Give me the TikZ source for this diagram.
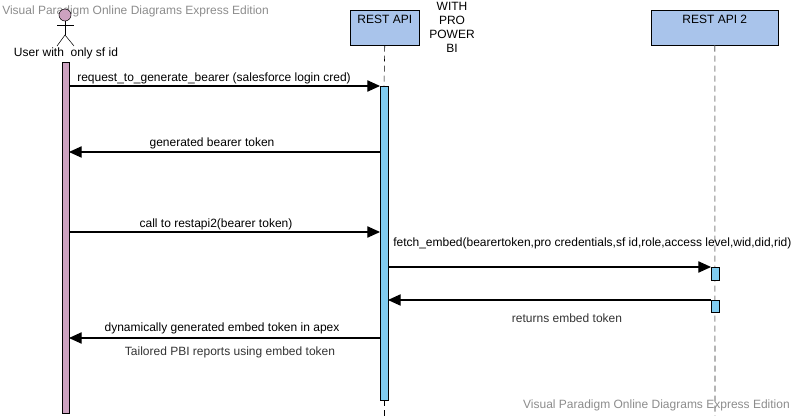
\documentclass[tikz,border=0pt]{standalone}
\usepackage{fontspec}
\setmainfont{Liberation Sans}
\usepackage{xcolor}
\usetikzlibrary{arrows.meta}

\definecolor{userpink}{RGB}{205,162,192}
\definecolor{apiblue}{RGB}{169,196,235}
\definecolor{barblue}{RGB}{128,204,240}
\definecolor{markgray}{RGB}{140,140,140}

\tikzset{
  msg/.style={thick, -{Triangle[length=9.5pt,width=8.5pt]}},
  lbl/.style={font=\fontsize{9}{10.5}\selectfont, inner sep=0pt},
  headbox/.style={draw, fill=apiblue, minimum height=26.25pt, anchor=north west, inner sep=0pt},
  actbar/.style={draw, anchor=north west, inner sep=0pt},
  life/.style={dash pattern=on 4.5pt off 3pt}
}

\begin{document}
\begin{tikzpicture}[x=0.75pt, y=-0.75pt]
        \useasboundingbox (0,0) rectangle (795,416);
        % watermarks
        \node[lbl, text=markgray, anchor=west] (wmtop) at (2,11) {Visual Paradigm Online Diagrams Express Edition};
        \node[lbl, text=markgray, anchor=east] (wmbot) at (790,405) {Visual Paradigm Online Diagrams Express Edition};

        % lifeline heads
        \node[headbox, minimum width=51.75pt] (api) at (350,10) {};
        \node[lbl, anchor=north] (apitxt) at (api.north) [yshift=-3.5pt] {REST API};
        \node[headbox, minimum width=95.25pt] (apitwo) at (651,10) {};
        \node[lbl, anchor=north] (apitwotxt) at (apitwo.north) [yshift=-3.5pt] {REST API 2};
        \node[lbl, align=center, anchor=north] (pbi) at (452,2) {WITH\\PRO\\POWER\\BI};

        % actor
        \filldraw[fill=userpink] (65,15) circle (4.5pt);
        \draw (65,21) -- (65,35);
        \draw (57,25) -- (74,25);
        \draw (57,46) -- (65,35) -- (74,46);
        \node[lbl] (user) at (66,53) {User with\ \ only sf id};

        % lifelines
        \draw[life] (api.south) -- (384,86);
        \draw[life] (384,400) -- (384,416);
        \draw[life, markgray, thick] (apitwo.south) -- (715,416);

        % activation bars
        \node[actbar, fill=userpink, minimum width=5.25pt, minimum height=263.25pt] (ubar) at (62,62) {};
        \node[actbar, fill=barblue, minimum width=6pt, minimum height=235.5pt] (abar) at (380,86) {};
        \node[actbar, fill=barblue, minimum width=6pt, minimum height=9.75pt] (bbar) at (711,267) {};
        \node[actbar, fill=barblue, minimum width=6pt, minimum height=9pt] (cbar) at (711,300) {};

        % message ends
        \coordinate (u1) at (69,86);   \coordinate (a1) at (380,86);
        \coordinate (u2) at (69,152);  \coordinate (a2) at (380,152);
        \coordinate (u3) at (69,232);  \coordinate (a3) at (380,232);
        \coordinate (a4) at (388,267); \coordinate (b4) at (711,267);
        \coordinate (a5) at (388,300); \coordinate (b5) at (711,300);
        \coordinate (u6) at (69,338);  \coordinate (a6) at (380,338);

        % messages
        \draw[msg] (u1) -- (a1);
        \node[lbl, anchor=west] (m1) at (77,78) {request\_to\_generate\_bearer (salesforce login cred)};
        \draw[msg] (a2) -- (u2);
        \node[lbl] (m2) at (212,143) {generated bearer token};
        \draw[msg] (u3) -- (a3);
        \node[lbl] (m3) at (216,224) {call to restapi2(bearer token)};
        \draw[msg] (a4) -- (b4);
        \node[lbl, anchor=west] (m4) at (393,243) {fetch\_embed(bearertoken,pro credentials,sf id,role,access level,wid,did,rid)};
        \draw[msg] (b5) -- (a5);
        \node[lbl, text=black!80] (m5) at (567,318) {returns embed token};
        \draw[msg] (a6) -- (u6);
        \node[lbl] (m6) at (222,328) {dynamically generated embed token in apex};
        \node[lbl, text=black!80] (m7) at (230,352) {Tailored PBI reports using embed token};
    \end{tikzpicture}
\end{document}
